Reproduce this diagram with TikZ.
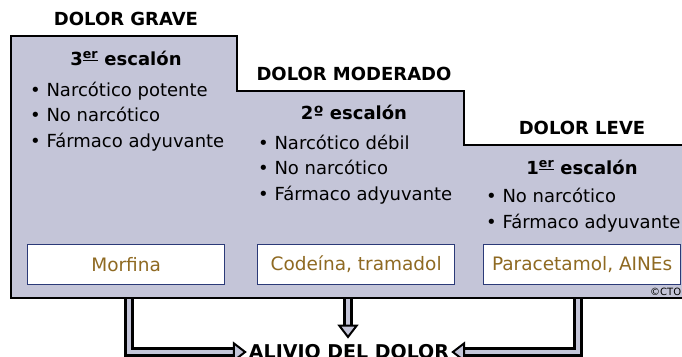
\documentclass[tikz,border=0pt]{standalone}
\usepackage{fontspec}
\setmainfont{DejaVu Sans}
\definecolor{ctoLav}{HTML}{C4C5D8}
\definecolor{ctoBlue}{HTML}{2B3A78}
\definecolor{ctoBrown}{HTML}{8F6A22}
\usetikzlibrary{positioning,arrows.meta}

\begin{document}
\begin{tikzpicture}[x=1pt,y=-1pt,
  steptitle/.style={font=\fontsize{18}{20}\selectfont\bfseries},
  itemlist/.style={font=\fontsize{18}{25.5}\selectfont, align=left, anchor=base west, inner sep=0pt},
  drugbox/.style={draw=ctoBlue, fill=white, line width=1.3pt, minimum width=197pt, minimum height=40pt,
    text=ctoBrown, font=\fontsize{18.5}{20}\selectfont, anchor=north west},
  relief/.style={double=ctoLav, double distance=4.5pt, line width=2.3pt,
    -{Triangle[open, fill=ctoLav, length=14pt, width=21pt, line width=2pt]}}]
  \useasboundingbox (0,0) rectangle (682,356);

  % Stepped block
  \fill[ctoLav] (11,36) -- (237,36) -- (237,91) -- (464,91) -- (464,145) -- (690,145) -- (690,298) -- (11,298) -- cycle;

  % Arrows to relief
  \coordinate (graveOut) at (129,298);
  \coordinate (modOut) at (348,298);
  \coordinate (leveOut) at (578,298);
  \node[font=\fontsize{19}{20}\selectfont\bfseries, inner sep=2pt] (alivio) at (349,352) {ALIVIO DEL DOLOR};
  \draw[relief] (graveOut) |- (alivio.west);
  \draw[relief] (leveOut) |- (alivio.east);
  \draw[relief, shorten >=4pt] (modOut) -- (modOut |- alivio.north);

  % Block outline
  \draw[line width=2.6pt] (690,298) -- (11,298) -- (11,36) -- (237,36) -- (237,91) -- (464,91) -- (464,145) -- (690,145);

  % Step 3: severe pain
  \node[steptitle] (grave) at (126,19) {DOLOR GRAVE};
  \node[steptitle] (esc3) at (126,58) {3\textsuperscript{\underline{er}} escalón};
  \node[itemlist] (list3) at (30,147) {• Narcótico potente\\• No narcótico\\• Fármaco adyuvante};

  % Step 2: moderate pain
  \node[steptitle] (moderado) at (354,74) {DOLOR MODERADO};
  \node[steptitle] (esc2) at (354,112) {2º escalón};
  \node[itemlist] (list2) at (258,200) {• Narcótico débil\\• No narcótico\\• Fármaco adyuvante};

  % Step 1: mild pain
  \node[steptitle] (leve) at (582,128) {DOLOR LEVE};
  \node[steptitle] (esc1) at (582,167) {1\textsuperscript{\underline{er}} escalón};
  \node[itemlist] (list1) at (486,228) {• No narcótico\\• Fármaco adyuvante};

  % Drugs
  \node[drugbox] (morfina) at (27,244) {Morfina};
  \node[drugbox] (codeina) at (257,244) {Codeína, tramadol};
  \node[drugbox] (paracetamol) at (483,244) {Paracetamol, AINEs};

  \node[font=\fontsize{10}{11}\selectfont, anchor=west, inner sep=0pt] (cto) at (650,292) {©CTO};
\end{tikzpicture}
\end{document}
